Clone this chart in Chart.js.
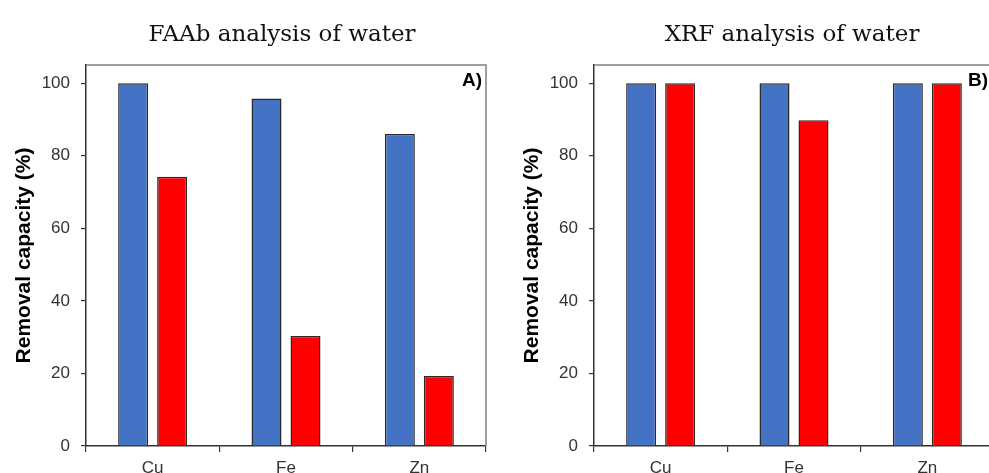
<!DOCTYPE html>
<html><head><meta charset="utf-8">
<script src="https://cdn.jsdelivr.net/npm/chart.js@4"></script>
<style>
html,body{margin:0;padding:0;background:#fff;overflow:hidden;width:989px;height:473px;position:relative;}
#wa{position:absolute;left:0;top:0;width:495px;height:473px;}
#wb{position:absolute;left:495px;top:0;width:505px;height:473px;}
</style></head><body>
<div id="wa"><canvas id="ca"></canvas></div>
<div id="wb"><canvas id="cb"></canvas></div>
<script>
const categories = ['Cu', 'Fe', 'Zn'];
const faabBlue = [100, 95.8, 86];
const faabRed = [74.2, 30.3, 19.3];
const xrfBlue = [100, 100, 100];
const xrfRed = [100, 89.8, 100];
const yTicks = [0, 20, 40, 60, 80, 100];
const titles = ['FAAb analysis of water', 'XRF analysis of water'];
const panelLabels = ['A)', 'B)'];
const yTitle = 'Removal capacity (%)';

const framePlugin = {
  id: 'frame',
  afterDatasetsDraw(chart, args, opts) {
    const {ctx, chartArea: a} = chart;
    ctx.save();
    ctx.strokeStyle = '#808080';
    ctx.lineWidth = 1.5;
    ctx.beginPath();
    ctx.moveTo(a.left, a.top);
    ctx.lineTo(a.right, a.top);
    ctx.lineTo(a.right, a.bottom);
    ctx.stroke();
    ctx.fillStyle = '#111';
    ctx.font = '23px "DejaVu Serif"';
    ctx.textAlign = 'center';
    ctx.textBaseline = 'alphabetic';
    ctx.fillText(opts.title, (a.left + a.right) / 2 + opts.titleDx, 41);
    ctx.fillStyle = '#000';
    ctx.font = 'bold 19px "Liberation Sans"';
    ctx.textAlign = 'left';
    ctx.fillText(opts.tag, opts.tagX, 86);
    ctx.restore();
  }
};

function makeChart(id, blue, red, title, tag, padLeft, padRight, titleDx, tagX) {
  return new Chart(document.getElementById(id), {
    type: 'bar',
    data: {
      labels: categories,
      datasets: [
        {data: blue, backgroundColor: '#4472C4', borderColor: '#2a2a2a', borderWidth: 1.5,
         categoryPercentage: 0.585, barPercentage: 0.77},
        {data: red, backgroundColor: '#FF0000', borderColor: '#2a2a2a', borderWidth: 1.5,
         categoryPercentage: 0.585, barPercentage: 0.77}
      ]
    },
    options: {
      responsive: true,
      maintainAspectRatio: false,
      animation: false,
      layout: {padding: {left: padLeft, right: padRight, top: 65, bottom: 0}},
      plugins: {
        legend: {display: false},
        tooltip: {enabled: false},
        title: {display: false},
        frame: {title: title, tag: tag, titleDx: titleDx, tagX: tagX}
      },
      scales: {
        x: {
          grid: {display: true, drawOnChartArea: false, drawTicks: true, tickLength: 6, color: '#333', lineWidth: 1.2, offset: true},
          border: {color: '#333', width: 1.5},
          ticks: {color: '#333', font: {family: 'Liberation Sans', size: 17}, padding: 6},
          afterFit(s) { s.height = 27; }
        },
        y: {
          min: 0,
          max: 105,
          afterBuildTicks(s) { s.ticks = yTicks.map(v => ({value: v})); },
          grid: {drawOnChartArea: false, drawTicks: true, tickLength: 5, color: '#333', lineWidth: 1.2},
          border: {color: '#333', width: 1.5},
          ticks: {color: '#333', font: {family: 'Liberation Sans', size: 17}, padding: 11},
          title: {display: true, text: yTitle, color: '#000',
                  font: {family: 'Liberation Sans', size: 21, weight: 'bold'},
                  padding: {top: 12, bottom: 0}},
          afterFit(s) { s.width = 86; }
        }
      }
    },
    plugins: [framePlugin]
  });
}

makeChart('ca', faabBlue, faabRed, titles[0], panelLabels[0], 0, 9, -4, 462);
makeChart('cb', xrfBlue, xrfRed, titles[1], panelLabels[1], 13, 6, -2, 473);
</script>
</body></html>
